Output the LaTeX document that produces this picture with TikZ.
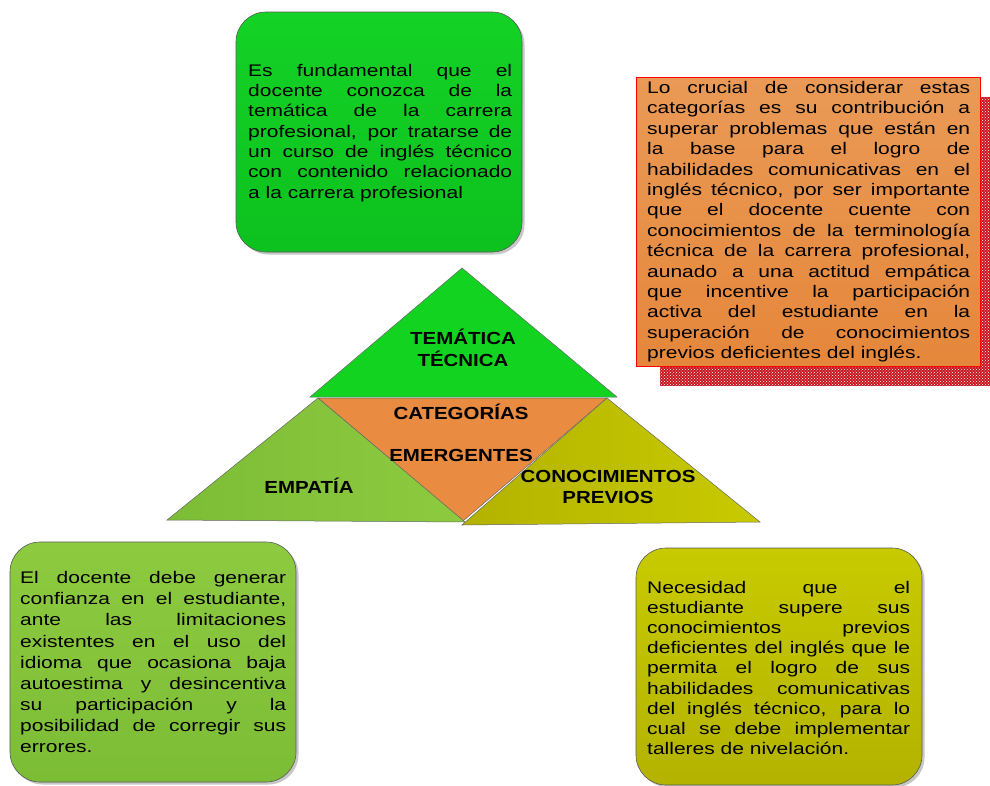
\documentclass[tikz,border=0pt]{standalone}
\usepackage{fontspec}
\setmainfont{Liberation Sans}[FakeStretch=1.25]
\newfontfamily\lblfont{Liberation Sans}[FakeStretch=1.17]
\usetikzlibrary{patterns}
\hyphenpenalty=10000
\tolerance=10000
\hbadness=10000
\definecolor{gbox}{HTML}{14D226}
\definecolor{gboxb}{HTML}{0DC11E}
\definecolor{gtri}{HTML}{12D420}
\definecolor{lgreen}{HTML}{8DCA40}
\definecolor{lgreenb}{HTML}{7CBD36}
\definecolor{olive}{HTML}{C8CA00}
\definecolor{oliveb}{HTML}{B3B300}
\definecolor{orangetri}{HTML}{E98B40}
\definecolor{orangebox}{HTML}{EA9A56}
\definecolor{orangeboxb}{HTML}{E5873B}
\definecolor{patred}{HTML}{C81620}
\newcommand\bodyfont[1]{\fontsize{16.8}{#1}\selectfont}
\tikzset{
  roundbox/.style={rounded corners=30pt, draw=black!65, line width=0.6pt},
  boxshadow/.style={rounded corners=30pt, fill=black!22, draw=none},
  txt/.style={anchor=north west, inner sep=0pt, align=justify},
  lbl/.style={anchor=base, inner sep=0pt, font={\lblfont\bfseries\fontsize{17.5}{21}\selectfont}},
  tri/.style={draw=black!60, line width=0.5pt},
}
\begin{document}
\begin{tikzpicture}[x=1pt,y=-1pt]
\useasboundingbox (0,0) rectangle (990,785);
\fill[white] (0,0) rectangle (990,785);

% ---- top green box
\fill[boxshadow] (238.5,14.5) rectangle (524.5,254.5);
\draw[roundbox, top color=gbox, bottom color=gboxb] (236,12) rectangle (522,252);
\node[txt, text width=264pt, font=\bodyfont{20.3}] (ttop) at (248,61.8)
 {\strut Es fundamental que el\linebreak docente conozca de la\linebreak temática de la carrera\linebreak profesional, por tratarse de\linebreak un curso de inglés técnico\linebreak con contenido relacionado\linebreak a la carrera profesional};

% ---- right orange box with dotted shadow
\fill[patred] (660,97) rectangle (990,386);
\fill[pattern=crosshatch dots, pattern color=white] (660,97) rectangle (990,386);
\draw[draw=red, line width=0.9pt, top color=orangebox, bottom color=orangeboxb] (636,77) rectangle (980,366);
\node[txt, text width=323pt, font=\bodyfont{20.4}] (tright) at (647,79.1)
 {\strut Lo crucial de considerar estas\linebreak categorías es su contribución a\linebreak superar problemas que están en\linebreak la base para el logro de\linebreak habilidades comunicativas en el\linebreak inglés técnico, por ser importante\linebreak que el docente cuente con\linebreak conocimientos de la terminología\linebreak técnica de la carrera profesional,\linebreak aunado a una actitud empática\linebreak que incentive la participación\linebreak activa del estudiante en la\linebreak superación de conocimientos\linebreak previos deficientes del inglés.};

% ---- triangles
\coordinate (apex) at (462,268);
\coordinate (bl) at (310,397);
\coordinate (br) at (617,397);
\coordinate (ol) at (318,398);
\coordinate (or) at (607,398);
\coordinate (ob) at (463,521);
\coordinate (el) at (167,520);
\coordinate (er) at (465,522);
\coordinate (cl) at (462,525);
\coordinate (cr) at (760,522);
\draw[tri, fill=gtri] (apex) -- (bl) -- (br) -- cycle;
\draw[tri, fill=orangetri] (ol) -- (or) -- (ob) -- cycle;
\draw[tri, left color=lgreenb, right color=lgreen] (el) -- (ol) -- (er) -- cycle;
\draw[tri, left color=oliveb, right color=olive] (cl) -- (or) -- (cr) -- cycle;

\node[lbl] (tem1) at (463,344) {TEMÁTICA};
\node[lbl] (tem2) at (463,366) {TÉCNICA};
\node[lbl] (cat1) at (461,419) {CATEGORÍAS};
\node[lbl] (cat2) at (461,461) {EMERGENTES};
\node[lbl] (emp) at (309,493) {EMPATÍA};
\node[lbl] (con1) at (608,482) {CONOCIMIENTOS};
\node[lbl] (con2) at (608,503) {PREVIOS};

% ---- bottom left box
\fill[boxshadow] (12.5,544.5) rectangle (298.5,784.5);
\draw[roundbox, top color=lgreen, bottom color=lgreenb] (10,542) rectangle (296,782);
\node[txt, text width=266pt, font=\bodyfont{21.1}] (tbl) at (20,568.8)
 {\strut El docente debe generar\linebreak confianza en el estudiante,\linebreak ante las limitaciones\linebreak existentes en el uso del\linebreak idioma que ocasiona baja\linebreak autoestima y desincentiva\linebreak su participación y la\linebreak posibilidad de corregir sus\linebreak errores.};

% ---- bottom right box
\fill[boxshadow] (638.5,550.5) rectangle (924.5,787.5);
\draw[roundbox, top color=olive, bottom color=oliveb] (636,548) rectangle (922,785);
\node[txt, text width=263pt, font=\bodyfont{20.2}] (tbr) at (647,578.8)
 {\strut Necesidad que el\linebreak estudiante supere sus\linebreak conocimientos previos\linebreak deficientes del inglés que le\linebreak permita el logro de sus\linebreak habilidades comunicativas\linebreak del inglés técnico, para lo\linebreak cual se debe implementar\linebreak talleres de nivelación.};
\end{tikzpicture}
\end{document}
